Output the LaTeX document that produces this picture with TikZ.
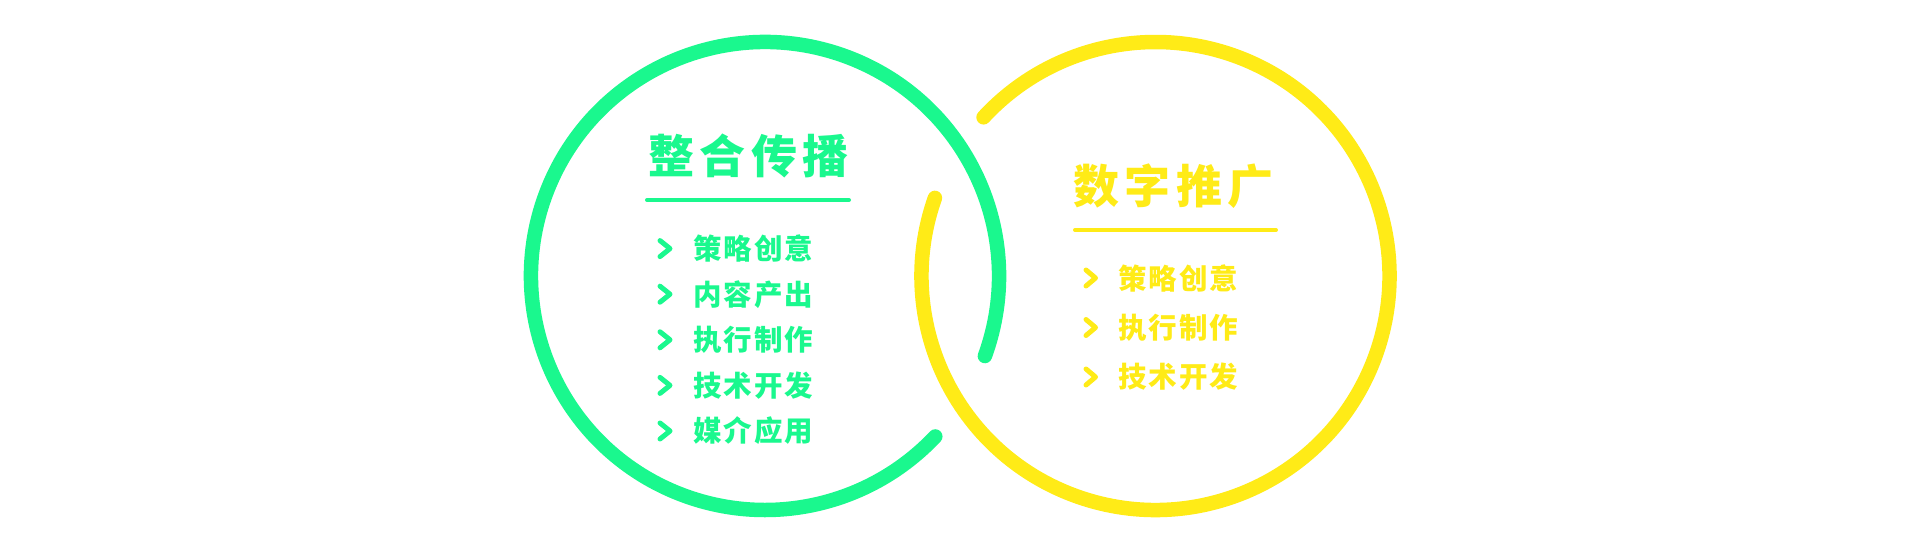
\documentclass[tikz,border=0pt]{standalone}
\usepackage{fontspec}
\setmainfont{Noto Sans CJK SC}
\usepackage{tikz}
\usetikzlibrary{positioning}
\usepackage{xcolor}
\definecolor{SpringGreen}{HTML}{1AF88E}
\definecolor{Lemon}{HTML}{FFEB17}

\begin{document}
\begin{tikzpicture}[x=1pt,y=1pt,
  ring/.style={line width=14.5pt,line cap=round},
  heading/.style={font=\fontsize{46}{46}\selectfont\bfseries\addfontfeature{LetterSpace=12},inner sep=0pt,anchor=west},
  entry/.style={font=\fontsize{28.5}{28.5}\selectfont\bfseries\addfontfeature{LetterSpace=7},inner sep=0pt,anchor=west},
  rule/.style={line width=4pt,line cap=round},
  chevron/.style={line width=5pt,line cap=round,line join=round}]
  \useasboundingbox (0,0) rectangle (1920,550);
  % rings
  \coordinate (gc) at (765,274);
  \coordinate (yc) at (1155.5,274);
  \draw[ring,SpringGreen] (gc) ++(-20:234) arc[start angle=-20,end angle=316.7,radius=234];
  \draw[ring,Lemon] (yc) ++(160.5:234) arc[start angle=160.5,end angle=497.3,radius=234];
  % left block
  \node[heading,text=SpringGreen] (gtitle) at (648,394) {整合传播};
  \draw[rule,SpringGreen] (647,350) -- (849,350);
  \foreach \txt [count=\i] in {策略创意,内容产出,执行制作,技术开发,媒介应用} {
    \node[entry,text=SpringGreen] (g\i) at (693,347-45.6*\i) {\txt};
    \draw[chevron,SpringGreen] ([xshift=-33pt,yshift=8pt]g\i.west) -- ++(10,-8) -- ++(-10,-8);
  }
  % right block
  \node[heading,text=Lemon] (ytitle) at (1073,364) {数字推广};
  \draw[rule,Lemon] (1075,320) -- (1276,320);
  \foreach \txt [count=\i] in {策略创意,执行制作,技术开发} {
    \node[entry,text=Lemon] (y\i) at (1118,321.5-49.5*\i) {\txt};
    \draw[chevron,Lemon] ([xshift=-32pt,yshift=8pt]y\i.west) -- ++(9.5,-8) -- ++(-9.5,-8);
  }
\end{tikzpicture}
\end{document}
